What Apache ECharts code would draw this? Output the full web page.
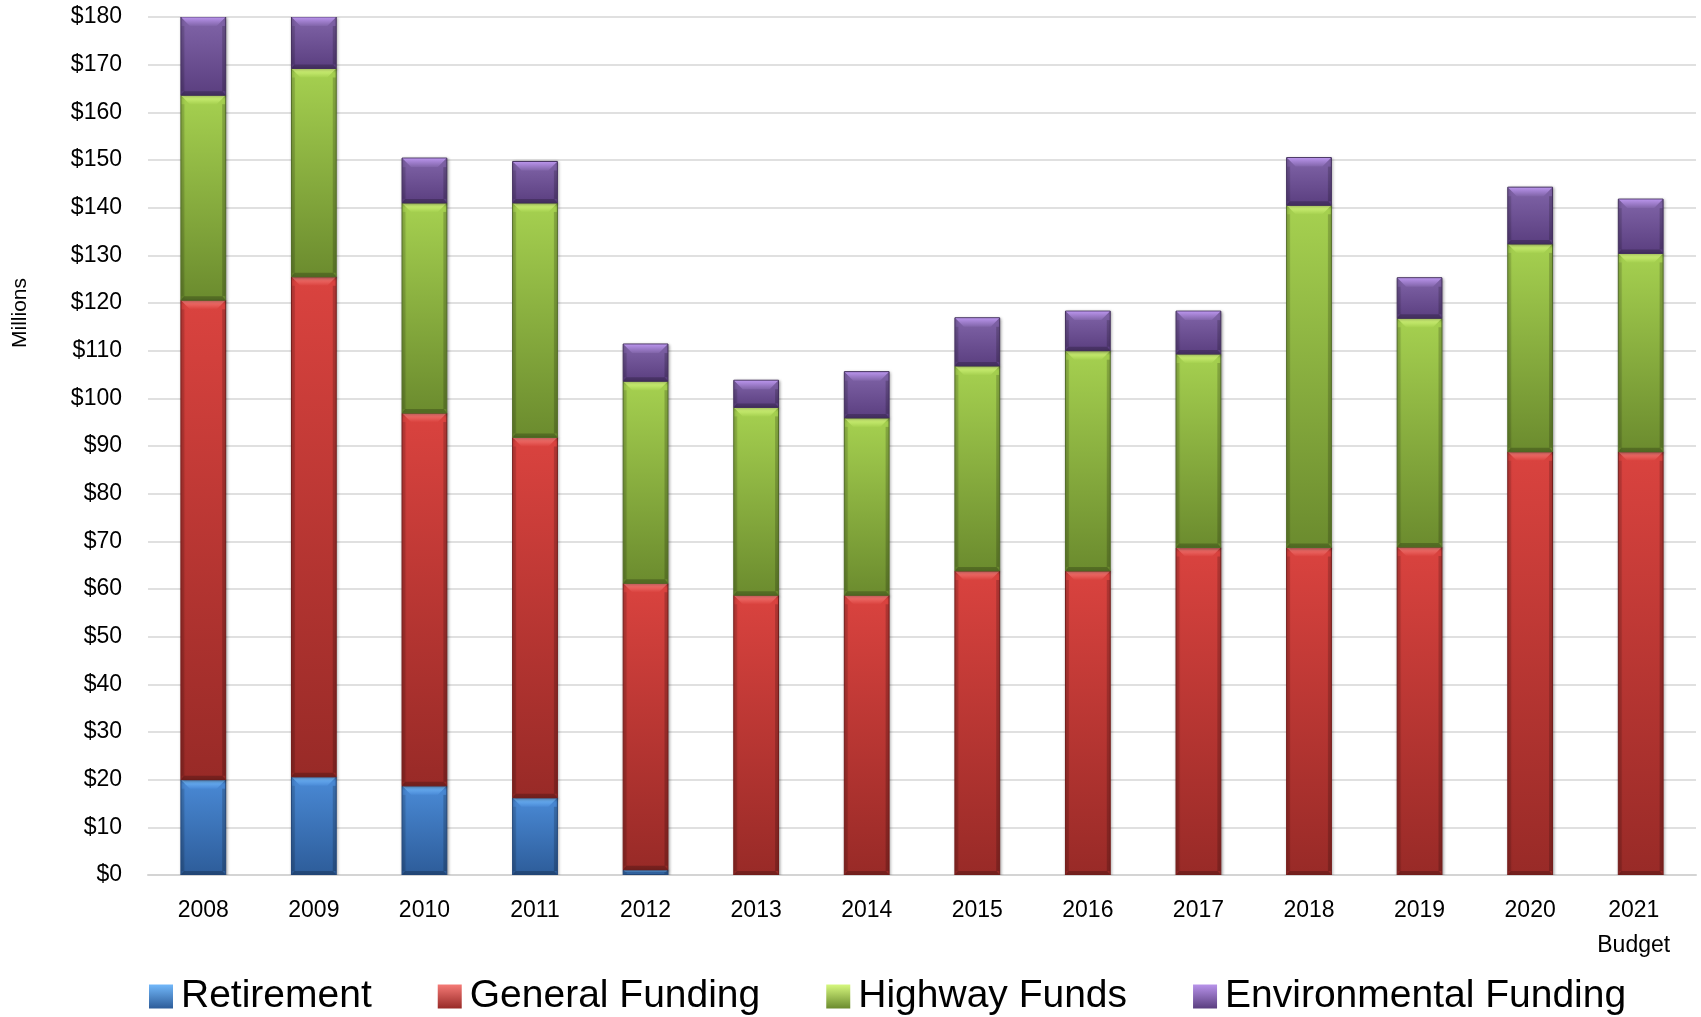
<!DOCTYPE html>
<html>
<head>
<meta charset="utf-8">
<title>Funding by Source, 2008–2021</title>
<script src="https://cdn.jsdelivr.net/npm/echarts@6/dist/echarts.min.js"></script>
<style>
  html, body { margin: 0; padding: 0; background: #ffffff; }
  #chart { width: 1701px; height: 1017px; }
</style>
</head>
<body>
<div id="chart"></div>
<script>
// Fiscal years shown on the category axis
const years = ['2008', '2009', '2010', '2011', '2012', '2013', '2014', '2015', '2016', '2017', '2018', '2019', '2020', '2021\nBudget'];

// Funding by source, in millions of dollars (stacked bottom to top)
const retirement    = [20.0, 20.6, 18.7, 16.2, 1.1, 0, 0, 0, 0, 0, 0, 0, 0, 0];
const general       = [100.6, 104.9, 78.2, 75.6, 60.1, 58.7, 58.7, 63.8, 63.8, 68.7, 68.7, 68.8, 88.8, 88.8];
const highway       = [43.0, 43.7, 44.1, 49.2, 42.4, 39.4, 37.2, 43.0, 46.2, 40.6, 71.8, 48.0, 43.6, 41.6];
const environmental = [20.0, 14.0, 9.4, 8.7, 7.8, 5.7, 9.7, 10.1, 8.3, 9.0, 10.0, 8.5, 11.9, 11.4];

const seriesNames = ['Retirement', 'General Funding', 'Highway Funds', 'Environmental Funding'];
const seriesValues = [retirement, general, highway, environmental];

// Value axis ticks
const Y_MIN = 0;
const Y_MAX = 180;
const Y_STEP = 10;

const FONT = '"Liberation Sans", Arial, sans-serif';
const BAR_RATIO = 0.405;

// Bevelled fill palette for each source
const palette = [
  { top: '#4a8ad6', bottom: '#2d5c99', bevel: '#72b8fa', stroke: '#23477a' },
  { top: '#da433f', bottom: '#982a27', bevel: '#f57a76', stroke: '#741d1b' },
  { top: '#a6d150', bottom: '#6b8b2e', bevel: '#d6f87e', stroke: '#526c27' },
  { top: '#8165a9', bottom: '#5a3e7f', bevel: '#b893ea', stroke: '#44305e' }
];

function vGrad(c0, c1) {
  return new echarts.graphic.LinearGradient(0, 0, 0, 1, [
    { offset: 0, color: c0 },
    { offset: 1, color: c1 }
  ]);
}

// Running bases for the stacked segments
const bases = seriesValues.map((vals, s) =>
  vals.map((_, i) => {
    let b = 0;
    for (let k = 0; k < s; k++) b += seriesValues[k][i];
    return b;
  })
);

function renderBar(params, api) {
  const c = palette[params.seriesIndex];
  const i = api.value(0);
  const v = api.value(1);
  const base = api.value(2);
  if (!(v > 0) || base >= Y_MAX) return null;
  const top = Math.min(base + v, Y_MAX);
  const pb = api.coord([i, base]);
  const pt = api.coord([i, top]);
  const w = api.size([1, 0])[0] * BAR_RATIO;
  const x0 = pb[0] - w / 2, x1 = pb[0] + w / 2;
  const y0 = pt[1], y1 = pb[1];
  const h = y1 - y0;
  const bt = Math.min(9, h * 0.45);
  const bs = Math.min(3, w * 0.1);
  const bb = Math.min(4, h * 0.2);
  return {
    type: 'group',
    children: [
      {
        type: 'rect',
        shape: { x: x0, y: y0, width: w, height: h },
        style: {
          fill: vGrad(c.top, c.bottom),
          stroke: c.stroke,
          lineWidth: 1,
          shadowBlur: 3,
          shadowOffsetX: 1,
          shadowOffsetY: 1,
          shadowColor: 'rgba(0,0,0,0.35)'
        }
      },
      {
        type: 'polygon',
        shape: { points: [[x0 + 0.5, y0 + 0.5], [x1 - 0.5, y0 + 0.5], [x1 - bt, y0 + bt], [x0 + bt, y0 + bt]] },
        style: { fill: vGrad(c.bevel, c.top) }
      },
      {
        type: 'rect',
        shape: { x: x0 + 0.5, y: y0 + bt, width: bs, height: Math.max(0, h - bt - bb) },
        style: { fill: 'rgba(0,0,0,0.10)' }
      },
      {
        type: 'rect',
        shape: { x: x1 - 0.5 - bs, y: y0 + bt, width: bs, height: Math.max(0, h - bt - bb) },
        style: { fill: 'rgba(0,0,0,0.18)' }
      },
      {
        type: 'polygon',
        shape: { points: [[x0 + 0.5, y1 - 0.5], [x1 - 0.5, y1 - 0.5], [x1 - bs, y1 - bb], [x0 + bs, y1 - bb]] },
        style: { fill: 'rgba(0,0,0,0.22)' }
      }
    ]
  };
}

// The budget year label sits slightly left of its bar
const categoryData = years.map((y, i) =>
  i === years.length - 1 ? { value: y, textStyle: { padding: [0, 14, 0, 0] } } : y
);

const chart = echarts.init(document.getElementById('chart'), null, { renderer: 'canvas' });

chart.setOption({
  backgroundColor: '#ffffff',
  animation: false,
  grid: { left: 148, right: 5, top: 17, bottom: 142, containLabel: false },
  legend: {
    left: 149,
    top: 977,
    padding: 0,
    icon: 'rect',
    itemWidth: 24,
    itemHeight: 24,
    itemGap: 66,
    textStyle: { fontFamily: FONT, fontSize: 39, color: '#000000', padding: [0, 0, 0, 3] },
    data: seriesNames
  },
  xAxis: {
    type: 'category',
    data: categoryData,
    axisTick: { show: false },
    axisLine: { lineStyle: { color: '#d4d4d4', width: 2 } },
    axisLabel: {
      interval: 0,
      margin: 18,
      fontFamily: FONT,
      fontSize: 23,
      lineHeight: 35,
      color: '#000000'
    }
  },
  yAxis: {
    type: 'value',
    min: Y_MIN,
    max: Y_MAX,
    interval: Y_STEP,
    axisLine: { show: false },
    axisTick: { show: false },
    splitLine: { lineStyle: { color: '#d6d6d6', width: 1.5 } },
    axisLabel: {
      margin: 26,
      fontFamily: FONT,
      fontSize: 23,
      color: '#000000',
      formatter: (v) => '$' + v
    }
  },
  graphic: [
    {
      type: 'text',
      x: 20,
      y: 313,
      rotation: Math.PI / 2,
      style: {
        text: 'Millions',
        fontFamily: FONT,
        fontSize: 21,
        fill: '#000000',
        align: 'center',
        verticalAlign: 'middle'
      }
    }
  ],
  series: seriesNames.map((name, s) => ({
    name: name,
    type: 'custom',
    clip: true,
    renderItem: renderBar,
    itemStyle: { color: vGrad(palette[s].bevel, palette[s].bottom) },
    encode: { x: 0, y: 1 },
    data: seriesValues[s].map((v, i) => [i, v, bases[s][i]])
  }))
});
</script>
</body>
</html>
